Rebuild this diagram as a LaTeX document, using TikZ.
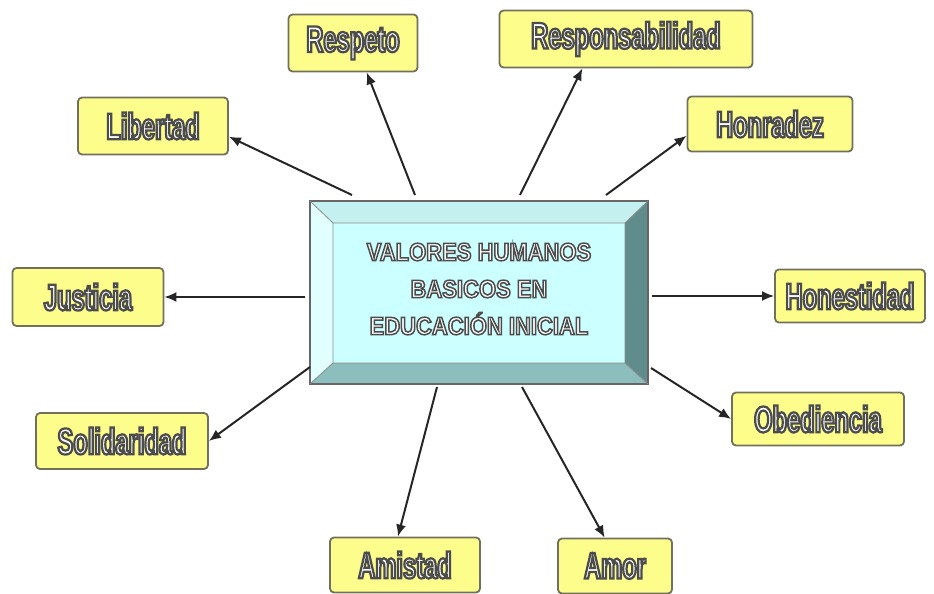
\documentclass[tikz,border=0pt]{standalone}
\usepackage{fontspec}
\setmainfont{Liberation Sans}
\newfontfamily\labfont[FakeStretch=0.64,FakeBold=6]{Liberation Sans Bold}
\newfontfamily\ctrfont[FakeStretch=0.88,FakeBold=6]{Liberation Sans Bold}
\usetikzlibrary{arrows.meta}
\definecolor{labfill}{RGB}{253,253,140}
\definecolor{labborder}{RGB}{112,112,92}
\definecolor{facecol}{RGB}{204,255,255}
\definecolor{topbev}{RGB}{196,240,240}
\definecolor{leftbev}{RGB}{225,255,255}
\definecolor{rightbev}{RGB}{96,140,140}
\definecolor{botbev}{RGB}{140,190,190}
\newcommand{\outl}{\special{pdf:literal 0.3 0.3 0.3 RG}}
\tikzset{
  lab/.style={draw=labborder, line width=1.8pt, fill=labfill, rounded corners=4pt,
    text=white, inner sep=0pt, font=\labfont\fontsize{37}{37}\selectfont},
  conn/.style={line width=2pt, draw=black!85, -{Latex[length=12pt,width=10pt]}},
  ctrtext/.style={text=white, align=center, font=\ctrfont\fontsize{25}{37}\selectfont}
}
\begin{document}
\begin{tikzpicture}[x=1pt,y=-1pt]
\useasboundingbox (0,0) rectangle (934,594);
% central bevelled box
\fill[topbev] (310,201) -- (648,201) -- (625,223) -- (333,223) -- cycle;
\fill[leftbev] (310,201) -- (333,223) -- (333,363) -- (310,384) -- cycle;
\fill[rightbev] (648,201) -- (648,384) -- (625,363) -- (625,223) -- cycle;
\fill[botbev] (310,384) -- (333,363) -- (625,363) -- (648,384) -- cycle;
\fill[facecol] (333,223) rectangle (625,363);
\draw[black!60, line width=1.2pt] (310,201) rectangle (648,384);
\draw[black!45, line width=0.8pt] (333,223) rectangle (625,363)
  (310,201) -- (333,223) (648,201) -- (625,223) (310,384) -- (333,363) (648,384) -- (625,363);
\node[ctrtext] (ctr) at (479,289) {\outl VALORES HUMANOS\\\outl BASICOS EN\\\outl EDUCACIÓN INICIAL};
% labels
\node[lab, minimum width=129pt, minimum height=57pt] (resp) at (353,43) {\outl Respeto};
\node[lab, minimum width=253pt, minimum height=57pt] (respo) at (626,39) {\outl Responsabilidad};
\node[lab, minimum width=150pt, minimum height=57pt] (lib) at (153,126) {\outl Libertad};
\node[lab, minimum width=165pt, minimum height=55pt] (hon) at (770,124) {\outl Honradez};
\node[lab, minimum width=151pt, minimum height=58pt] (jus) at (88,297) {\outl Justicia};
\node[lab, minimum width=150pt, minimum height=53pt] (hst) at (850,296) {\outl Honestidad};
\node[lab, minimum width=172pt, minimum height=56pt] (sol) at (122,441) {\outl Solidaridad};
\node[lab, minimum width=172pt, minimum height=53pt] (obe) at (818,419) {\outl Obediencia};
\node[lab, minimum width=150pt, minimum height=55pt] (ami) at (405,565) {\outl Amistad};
\node[lab, minimum width=114pt, minimum height=55pt] (amo) at (615,566) {\outl Amor};
% connector start points
\coordinate (s1) at (352,195);
\coordinate (s2) at (415,195);
\coordinate (s3) at (520,195);
\coordinate (s4) at (606,195);
\coordinate (s5) at (305,297);
\coordinate (s6) at (652,296);
\coordinate (s7) at (310,367);
\coordinate (s8) at (651,368);
\coordinate (s9) at (437,387);
\coordinate (s10) at (522,387);
% connectors
\draw[conn] (s1) -- (lib.-8);
\draw[conn] (s2) -- (resp.-65);
\draw[conn] (s3) -- (respo.-146);
\draw[conn] (s4) -- (hon.188);
\draw[conn] (s5) -- (jus.east);
\draw[conn] (s6) -- (hst.west);
\draw[conn] (s7) -- (sol.east);
\draw[conn] (s8) -- (obe.west);
\draw[conn] (s9) -- (ami.104);
\draw[conn] (s10) -- (amo.110);
\end{tikzpicture}
\end{document}
